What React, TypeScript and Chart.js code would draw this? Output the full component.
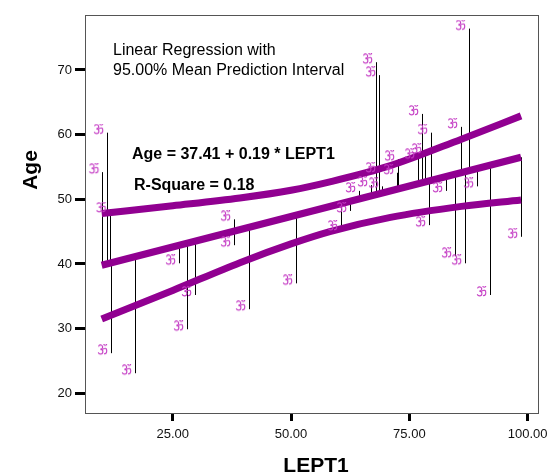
import React, { useEffect, useRef } from "react";
import { Chart, registerables } from "chart.js";
Chart.register(...registerables);

// ---- data ----
const lept1 = [10.13, 11.12, 11.65, 11.96, 17.03, 26.33, 28.02, 29.71, 37.95, 37.95, 41.12, 51.05, 60.56, 62.46, 64.36, 66.89, 69.22, 67.95, 68.59, 68.59, 72.39, 72.6, 76.83, 78.31, 77.67, 79.57, 79.15, 82.74, 84.64, 86.76, 85.91, 87.6, 89.29, 92.04, 98.59];
const age = [54.2, 60.3, 48.2, 26.2, 23.1, 40.1, 29.9, 35.2, 46.9, 42.9, 33.0, 37.0, 45.4, 48.2, 51.3, 52.2, 52.0, 71.2, 69.2, 54.4, 54.1, 56.2, 56.5, 57.3, 63.2, 60.3, 46.0, 51.3, 41.2, 40.1, 61.2, 76.4, 52.0, 35.2, 44.2];

// fitted line as drawn (ends)
const fitX = [10.0, 98.6];
const fitY = [39.8, 56.5];

const bandX = [10.0, 25.0, 39.2, 50.0, 58.2, 71.0, 86.0, 98.6];
const upperBand = [47.8, 49.0, 50.2, 51.4, 52.7, 55.2, 59.3, 62.9];
const lowerBand = [31.5, 35.9, 40.2, 43.1, 45.0, 47.2, 48.9, 49.9];

const xTicks = [25, 50, 75, 100];
const yTicks = [20, 30, 40, 50, 60, 70];

const noteLines = ["Linear Regression with", "95.00% Mean Prediction Interval"];
const equationText = "Age = 37.41 + 0.19 * LEPT1";
const rSquareText = "R-Square = 0.18";
const xTitle = "LEPT1";
const yTitle = "Age";

const FONT = "'Liberation Sans', Arial, sans-serif";
const BAND = "#910091";
const MARK = "#c43cc4";

function fitAt(x: number) {
  const t = (x - fitX[0]) / (fitX[1] - fitX[0]);
  return fitY[0] + t * (fitY[1] - fitY[0]);
}

function drawOm(ctx: CanvasRenderingContext2D, gx: number, gy: number) {
  ctx.save();
  ctx.translate(gx, gy);
  ctx.scale(1.25, 1.25);
  ctx.strokeStyle = MARK;
  ctx.fillStyle = MARK;
  ctx.lineWidth = 0.9;
  ctx.beginPath();
  ctx.arc(-1.2, -1.6, 1.7, Math.PI * 1.1, Math.PI * 0.5);
  ctx.stroke();
  ctx.beginPath();
  ctx.arc(-1.2, 2.0, 1.9, Math.PI * 1.5, Math.PI * 2.9);
  ctx.stroke();
  ctx.beginPath();
  ctx.moveTo(0.3, 0.3);
  ctx.quadraticCurveTo(3.8, -1.8, 3.8, 1.2);
  ctx.quadraticCurveTo(3.8, 4, 1.6, 3.6);
  ctx.stroke();
  ctx.beginPath();
  ctx.arc(2.6, -4.2, 1.2, 0, Math.PI);
  ctx.stroke();
  ctx.fillRect(2.1, -5.6, 1, 1);
  ctx.restore();
}

export default function App() {
  const ref = useRef<HTMLCanvasElement>(null);
  useEffect(() => {
    const canvas = ref.current!;
    const marker = document.createElement("canvas");
    marker.width = 28;
    marker.height = 18;
    drawOm(marker.getContext("2d")!, 14 - 9, 9 - 4);

    const points = lept1.map((x, i) => ({ x, y: age[i] }));
    const fitData = fitX.map((x, i) => ({ x, y: fitY[i] }));

    const residualPlugin = {
      id: "residuals",
      beforeDatasetsDraw(chart: any) {
        const { ctx, scales } = chart;
        ctx.save();
        ctx.strokeStyle = "#000";
        ctx.lineWidth = 1;
        points.forEach((p) => {
          const px = Math.round(scales.x.getPixelForValue(p.x)) + 0.5;
          const y1 = scales.y.getPixelForValue(p.y);
          const y2 = scales.y.getPixelForValue(fitAt(p.x));
          ctx.beginPath();
          ctx.moveTo(px, y1);
          ctx.lineTo(px, y2);
          ctx.stroke();
        });
        ctx.restore();
      },
    };

    const decorPlugin = {
      id: "decor",
      afterDraw(chart: any) {
        const { ctx, chartArea: a } = chart;
        ctx.save();
        ctx.strokeStyle = "#555";
        ctx.lineWidth = 1;
        ctx.strokeRect(Math.round(a.left) + 0.5, Math.round(a.top) + 0.5, Math.round(a.right - a.left), Math.round(a.bottom - a.top));
        ctx.fillStyle = "#000";
        ctx.textAlign = "left";
        ctx.textBaseline = "alphabetic";
        ctx.font = `16px ${FONT}`;
        ctx.fillText(noteLines[0], 113, 55);
        ctx.fillText(noteLines[1], 113, 74.5);
        ctx.font = `bold 16px ${FONT}`;
        ctx.fillText(equationText, 132, 158.5);
        ctx.fillText(rSquareText, 134, 189.5);
        ctx.font = `bold 21px ${FONT}`;
        ctx.textAlign = "center";
        ctx.textBaseline = "middle";
        ctx.fillText(xTitle, 316, 466);
        ctx.translate(31, 170);
        ctx.rotate(-Math.PI / 2);
        ctx.fillText(yTitle, 0, 0);
        ctx.restore();
      },
    };

    const chart = new Chart(canvas, {
      type: "scatter",
      data: {
        datasets: [
          {
            type: "scatter",
            data: points,
            pointStyle: marker as any,
            pointRadius: 5,
            order: 0,
          },
          {
            type: "line",
            data: bandX.map((x, i) => ({ x, y: upperBand[i] })),
            borderColor: BAND,
            borderWidth: 7,
            pointRadius: 0,
            cubicInterpolationMode: "monotone",
            order: 1,
          },
          {
            type: "line",
            data: bandX.map((x, i) => ({ x, y: lowerBand[i] })),
            borderColor: BAND,
            borderWidth: 7,
            pointRadius: 0,
            cubicInterpolationMode: "monotone",
            order: 1,
          },
          {
            type: "line",
            data: fitData,
            borderColor: BAND,
            borderWidth: 7,
            pointRadius: 0,
            order: 1,
          },
        ] as any,
      },
      options: {
        responsive: false,
        animation: false,
        layout: { padding: { top: 15, right: 9, left: 0, bottom: 0 } },
        plugins: { legend: { display: false }, tooltip: { enabled: false } },
        scales: {
          x: {
            type: "linear",
            min: 6.47,
            max: 102.18,
            afterBuildTicks: (s: any) => {
              s.ticks = xTicks.map((v) => ({ value: v }));
            },
            afterFit: (s: any) => {
              s.height = 63;
              s.paddingLeft = 0;
              s.paddingRight = 0;
            },
            border: { display: false },
            grid: { drawOnChartArea: false, drawTicks: true, tickLength: 8, tickWidth: 3, tickColor: "#000" },
            ticks: {
              padding: 6,
              color: "#111",
              font: { family: FONT, size: 13 },
              callback: (v: any) => Number(v).toFixed(2),
            },
          },
          y: {
            type: "linear",
            min: 16.95,
            max: 78.5,
            afterBuildTicks: (s: any) => {
              s.ticks = yTicks.map((v) => ({ value: v }));
            },
            afterFit: (s: any) => {
              s.width = 85;
              s.paddingTop = 0;
              s.paddingBottom = 0;
            },
            border: { display: false },
            grid: { drawOnChartArea: false, drawTicks: true, tickLength: 10, tickWidth: 3, tickColor: "#000" },
            ticks: {
              padding: 3,
              color: "#111",
              font: { family: FONT, size: 13 },
              callback: (v: any) => String(v),
            },
          },
        },
      },
      plugins: [residualPlugin, decorPlugin],
    });
    return () => chart.destroy();
  }, []);
  return (
    <div style={{ position: "fixed", left: 0, top: 0, width: 547, height: 476, background: "#fff" }}>
      <canvas ref={ref} width={547} height={476} style={{ display: "block", width: 547, height: 476 }} />
    </div>
  );
}
